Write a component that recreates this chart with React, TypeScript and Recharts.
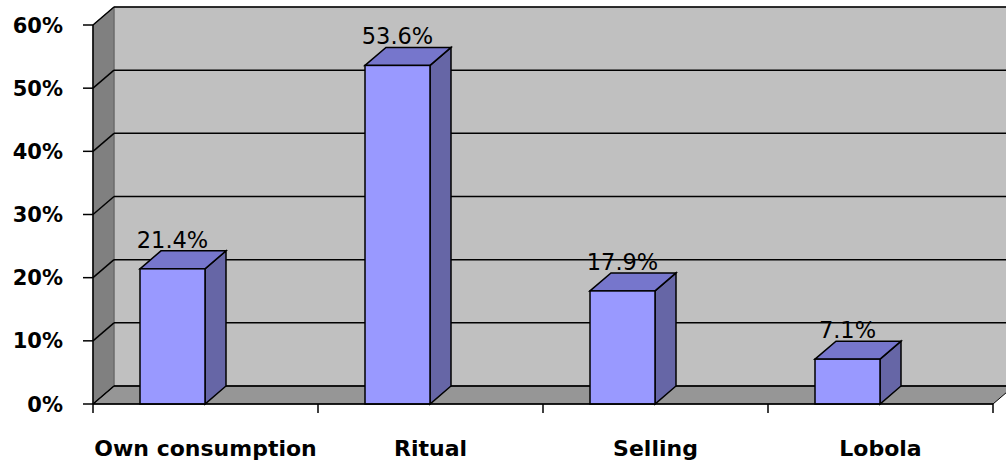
import React from "react";
import { Bar, BarChart, CartesianGrid, XAxis, YAxis } from "recharts";

const categories = ["Own consumption", "Ritual", "Selling", "Lobola"];
const shares = [0.214, 0.536, 0.179, 0.071];
const yTicks = [0, 0.1, 0.2, 0.3, 0.4, 0.5, 0.6];

const data = categories.map((name, i) => ({ name, value: shares[i] }));

// 3D projection depth of the walls / bars (Excel-style perspective)
const DX = 21;
const DY = 18;
const BAR_SHIFT = 33;
const FONT = "'DejaVu Sans', Verdana, sans-serif";

function walls(x: number, y: number, width: number, height: number) {
  const b = y + height;
  const r = x + width;
  return (
    <g>
      <rect x={x + DX} y={y - DY} width={width} height={height} fill="#c0c0c0" stroke="#808080" />
      <polygon
        points={`${x},${y} ${x + DX},${y - DY} ${x + DX},${b - DY} ${x},${b}`}
        fill="#808080"
        stroke="#606060"
      />
      <polygon
        points={`${x},${b} ${x + DX},${b - DY} ${r + DX},${b - DY} ${r},${b}`}
        fill="#969696"
        stroke="#000"
      />
    </g>
  );
}

// grid line with its diagonal across the side wall; the first one also paints the walls
function gridLine(props: any) {
  const { x1, y1, x2, index, x, y, width, height } = props;
  return (
    <g key={`g-${index}-${y1}`}>
      {index === 0 && walls(x, y, width, height)}
      <line x1={x1} y1={y1} x2={x1 + DX} y2={y1 - DY} stroke="#000" strokeWidth={1.5} />
      <line x1={x1 + DX} y1={y1 - DY} x2={x2 + DX} y2={y1 - DY} stroke="#000" strokeWidth={1.5} />
    </g>
  );
}

function Prism(props: any) {
  const { x, y, width, height, value } = props;
  const fx = x - BAR_SHIFT;
  const w = width;
  const top = `${fx},${y} ${fx + DX},${y - DY} ${fx + w + DX},${y - DY} ${fx + w},${y}`;
  const side = `${fx + w},${y} ${fx + w + DX},${y - DY} ${fx + w + DX},${y + height - DY} ${fx + w},${y + height}`;
  return (
    <g>
      <polygon points={side} fill="#6666a6" stroke="#000" strokeWidth={1.5} />
      <polygon points={top} fill="#7676cc" stroke="#000" strokeWidth={1.5} />
      <rect x={fx} y={y} width={w} height={height} fill="#9999ff" stroke="#000" strokeWidth={1.5} />
      <text
        x={fx + w / 2}
        y={y - DY - 3}
        textAnchor="middle"
        fontFamily={FONT}
        fontSize={22.5}
        fill="#000"
      >
        {`${(value * 100).toFixed(1)}%`}
      </text>
    </g>
  );
}

function YTick(props: any) {
  const { x, y, payload } = props;
  return (
    <text x={x} y={y} dy="0.36em" textAnchor="end" fontFamily={FONT} fontWeight="bold" fontSize={21} fill="#000">
      {`${Math.round(payload.value * 100)}%`}
    </text>
  );
}

function XTick(props: any) {
  const { x, y, payload, index, width, visibleTicksCount } = props;
  const band = width / visibleTicksCount;
  const left = x - band / 2;
  const last = index === visibleTicksCount - 1;
  const base = y - 8;
  return (
    <g>
      <line x1={left} y1={base} x2={left} y2={base + 9} stroke="#000" strokeWidth={1.5} />
      {last && <line x1={left + band} y1={base} x2={left + band} y2={base + 9} stroke="#000" strokeWidth={1.5} />}
      <text x={x} y={base + 44} dy="0.36em" textAnchor="middle" fontFamily={FONT} fontWeight="bold" fontSize={22} fill="#000">
        {payload.value}
      </text>
    </g>
  );
}

export default function App() {
  return (
    <div style={{ position: "absolute", left: 0, top: 0, background: "#fff" }}>
      <BarChart width={1006} height={464} data={data} margin={{ top: 25, right: 13, bottom: 0, left: 0 }} barSize={65}>
        <CartesianGrid horizontal={gridLine} vertical={false} fill="none" />
        <XAxis
          dataKey="name"
          height={60}
          tick={<XTick />}
          tickLine={false}
          axisLine={{ stroke: "#000", strokeWidth: 1.5 }}
          interval={0}
        />
        <YAxis
          width={93}
          domain={[0, 0.6]}
          ticks={yTicks}
          tick={<YTick />}
          tickSize={10}
          tickMargin={20}
          tickLine={{ stroke: "#000", strokeWidth: 1.5 }}
          axisLine={{ stroke: "#000", strokeWidth: 1.5 }}
        />
        <Bar dataKey="value" shape={<Prism />} isAnimationActive={false} />
      </BarChart>
    </div>
  );
}
